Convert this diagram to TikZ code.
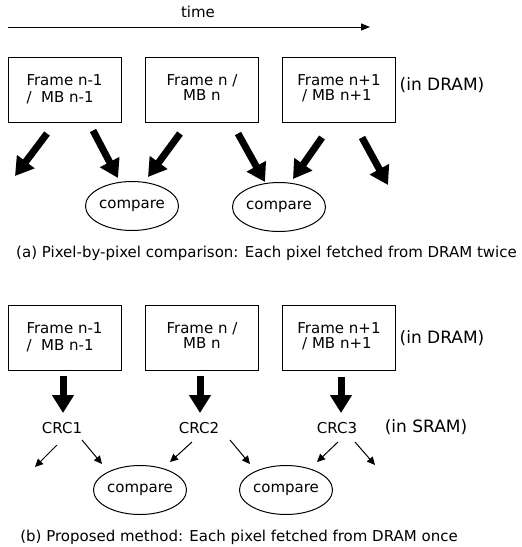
\documentclass[tikz,border=0pt]{standalone}
\usepackage{fontspec}
\setmainfont{DejaVu Sans}
\usetikzlibrary{arrows.meta,shapes.geometric,calc}
\begin{document}
\begin{tikzpicture}[x=1pt,y=-1pt,
  every node/.style={font=\fontsize{15}{17}\selectfont, inner sep=0pt},
  side/.style={font=\fontsize{17}{20}\selectfont},
  box/.style={draw, line width=1pt, minimum width=113pt, minimum height=65pt},
  cmp/.style={draw, ellipse, line width=1pt, minimum width=86pt, minimum height=49pt},
  fat/.style={line width=7pt, -{Triangle[length=18pt,width=21pt]}},
  slim/.style={line width=1pt, -{Triangle[length=8pt,width=7.5pt]}},
  timearrow/.style={line width=1pt, -{Triangle[length=9pt,width=7pt]}}]
\useasboundingbox (0,0) rectangle (522,547);
% time
\node (time) at (198,12) {time};
\coordinate (t0) at (8,27);
\coordinate (t1) at (370,27);
\draw[timearrow] (t0) -- (t1);
% (a) top frames
\node[box, align=left] (a1) at (64.5,89.5) {Frame n-1\\/~~MB n-1};
\node[box] (a2) at (202,89.5) {\raisebox{2pt}{\begin{tabular}{@{}c@{}}Frame n /\\[-2pt]MB n\end{tabular}}};
\node[box] (a3) at (339,89.5) {\raisebox{2pt}{\begin{tabular}{@{}l@{}}Frame n+1\\[-2pt]~/ MB n+1\end{tabular}}};
\node[side] (dram1) at (442,85) {(in DRAM)};
\node[cmp] (c1) at (132,206) {compare};
\node[cmp] (c2) at (279,207) {compare};
\coordinate (f1) at (15,176);
\coordinate (f2) at (388,185);
\draw[fat] ($(a1.south)+(-17.5,11)$) -- (f1);
\draw[fat] ($(a1.south)+(28.5,8)$) -- ($(c1.north)+(-14,-3)$);
\draw[fat] ($(a2.south)+(-22,11)$) -- ($(c1.north)+(16,-4)$);
\draw[fat] ($(a2.south)+(36,11)$) -- ($(c2.north)+(-14,0)$);
\draw[fat] ($(a3.south)+(-17,15)$) -- ($(c2.north)+(14,-3)$);
\draw[fat] ($(a3.south)+(23,15)$) -- (f2);
\node (capa) at (266.5,253) {(a) Pixel-by-pixel comparison: Each pixel fetched from DRAM twice};
% (b) bottom
\node[box, align=left] (b1) at (64.5,337.5) {Frame n-1\\/~~MB n-1};
\node[box] (b2) at (202,337.5) {\raisebox{2pt}{\begin{tabular}{@{}c@{}}Frame n /\\[-2pt]MB n\end{tabular}}};
\node[box] (b3) at (339,337.5) {\raisebox{2pt}{\begin{tabular}{@{}l@{}}Frame n+1\\[-2pt]~/ MB n+1\end{tabular}}};
\node[side] (dram2) at (442,338) {(in DRAM)};
\node (k1) at (62,428) {CRC1};
\node (k2) at (199,428) {CRC2};
\node (k3) at (337,428) {CRC3};
\node[side] (sram) at (426,427) {(in SRAM)};
\draw[fat] ($(b1.south)+(-1.5,5)$) -- ($(k1)+(1,-15)$);
\draw[fat] ($(b2.south)+(-2,5)$) -- ($(k2)+(1,-15)$);
\draw[fat] ($(b3.south)+(2,6)$) -- ($(k3)+(4,-15)$);
\node[cmp] (d1) at (140,490) {compare};
\node[cmp] (d2) at (286,490) {compare};
\coordinate (f3) at (35,467);
\coordinate (f4) at (375,465);
\draw[slim] ($(k1)+(-5,17)$) -- (f3);
\draw[slim] ($(k1)+(20,12)$) -- ($(d1.north)+(-38,-1)$);
\draw[slim] ($(k2)+(-7,14)$) -- ($(d1.north)+(30,-3)$);
\draw[slim] ($(k2)+(31,12)$) -- ($(d2.north)+(-36,-1)$);
\draw[slim] ($(k3)+(1,14)$) -- ($(d2.north)+(31,-3)$);
\draw[slim] ($(k3)+(18,14)$) -- (f4);
\node (capb) at (239,537) {(b) Proposed method: Each pixel fetched from DRAM once};
\end{tikzpicture}
\end{document}
